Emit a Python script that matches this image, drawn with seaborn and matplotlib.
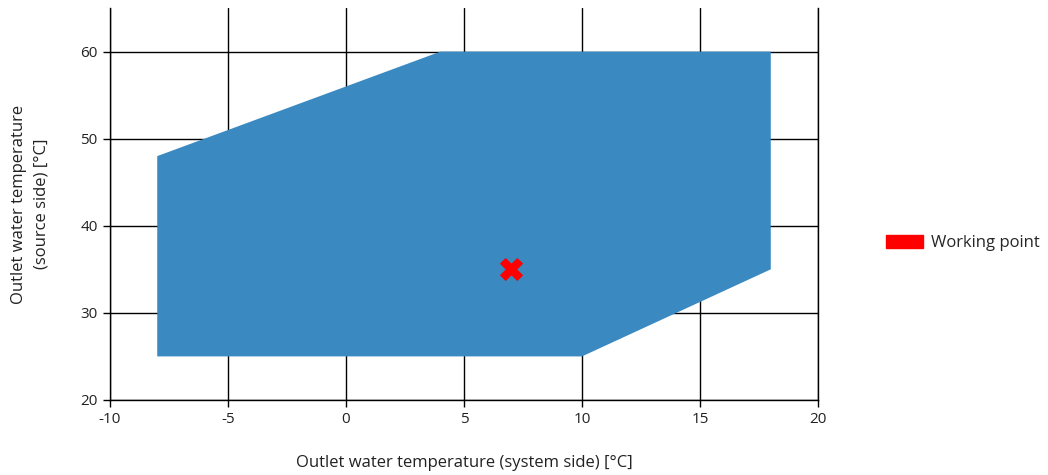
import matplotlib
matplotlib.use("Agg")
import matplotlib.pyplot as plt
import matplotlib.patches as mpatches
import seaborn as sns
import pandas as pd

# Operating envelope (system side x, source side y)
envelope_x = [-8, -8, 4, 18, 18, 10]
envelope_y = [25, 48, 60, 60, 35, 25]

# Working point
wp_x = [7]
wp_y = [35]

x_ticks = [-10, -5, 0, 5, 10, 15, 20]
y_ticks = [20, 30, 40, 50, 60]

sns.set_style("white")
plt.rcParams['font.family'] = ['Open Sans', 'DejaVu Sans']
plt.rcParams['axes.unicode_minus'] = False

fig = plt.figure(figsize=(10.48, 4.75), dpi=100)
ax = fig.add_axes([0.105, 0.158, 0.6755, 0.825])

ax.fill(envelope_x, envelope_y, color='#3A89C0', zorder=2, linewidth=0)

punto = pd.DataFrame({'x': wp_x, 'y': wp_y})
sns.scatterplot(data=punto, x='x', y='y', marker='X', color='red', s=280,
                linewidth=0, ax=ax, zorder=3)

ax.set_xlim(-10, 20)
ax.set_ylim(20, 65)
ax.set_xticks(x_ticks)
ax.set_yticks(y_ticks)
ax.grid(True, color='black', linewidth=1, zorder=1)
ax.set_axisbelow(True)
ax.spines['top'].set_visible(False)
for s in ['left', 'bottom', 'right']:
    ax.spines[s].set_color('black')
    ax.spines[s].set_linewidth(1)
ax.tick_params(axis='both', which='both', length=5, width=1, color='black',
               labelsize=11, labelcolor='#222222', direction='out',
               bottom=True, left=True, pad=4)

ax.set_xlabel('Outlet water temperature (system side) [°C]', fontsize=12,
              color='#222222', labelpad=20)
ax.set_ylabel('Outlet water temperature\n(source side) [°C]', fontsize=12,
              color='#222222', labelpad=22, linespacing=1.55)

handle = mpatches.Patch(color='red', label='Working point')
ax.legend(handles=[handle], loc='center left', bbox_to_anchor=(1.075, 0.40),
          frameon=False, fontsize=12, handlelength=2.2, handleheight=0.8,
          handletextpad=0.5)

fig.savefig('out.png', dpi=100)
